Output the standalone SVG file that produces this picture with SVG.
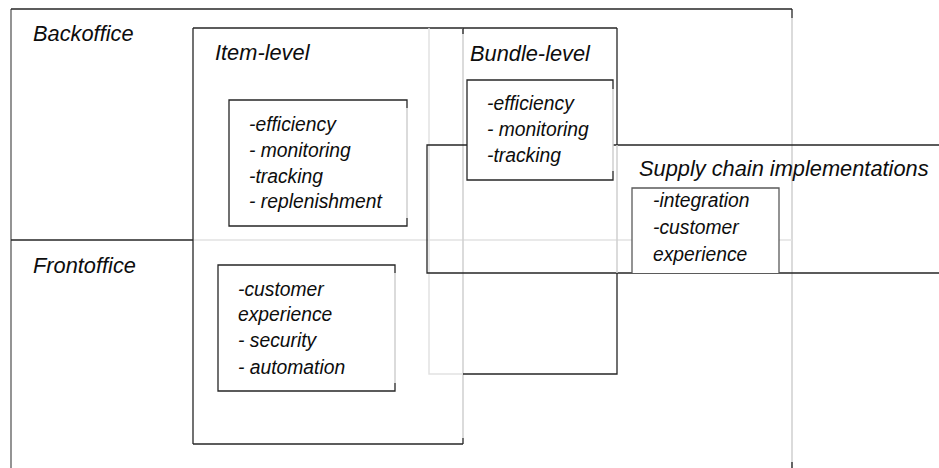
<svg xmlns="http://www.w3.org/2000/svg" width="939" height="468" viewBox="0 0 939 468">
  <style>
    text { font-family: "Liberation Sans", Arial, sans-serif; font-style: italic; fill: #0d0d0d; }
    .title { font-size: 21.8px; }
    .item { font-size: 19.3px; }
    .dark { stroke: #262626; stroke-width: 1.3; fill: none; }
    .mid { stroke: #5a5a5a; stroke-width: 1.3; fill: none; }
    .light { stroke: #cfcfcf; stroke-width: 1.5; fill: none; }
    .pale { stroke: #e2e2e2; stroke-width: 1.5; fill: none; }
    .box { fill: #ffffff; stroke: none; }
  </style>

  <!-- Outer frame: back office / front office areas -->
  <g id="office-frame">
    <line class="mid" x1="11" y1="9" x2="11" y2="468"/>
    <line class="dark" x1="11" y1="9" x2="792" y2="9"/>
    <line class="light" x1="792" y1="18" x2="792" y2="468"/>
    <line class="dark" x1="792" y1="9" x2="792" y2="18"/>
    <line class="dark" x1="792" y1="462" x2="792" y2="468"/>
    <!-- divider between back office and front office -->
    <line class="dark" x1="11" y1="240" x2="193" y2="240"/>
    <line class="pale" x1="193" y1="240" x2="792" y2="240"/>
  </g>

  <!-- Item-level column -->
  <g id="item-level">
    <line class="dark" x1="193" y1="28" x2="463" y2="28"/>
    <line class="dark" x1="193" y1="28" x2="193" y2="444"/>
    <line class="dark" x1="193" y1="444" x2="463" y2="444"/>
    <line class="light" x1="463" y1="28" x2="463" y2="438"/>
    <line class="dark" x1="463" y1="438" x2="463" y2="444"/>
    <text class="title" x="215" y="60">Item-level</text>
  </g>

  <!-- Pale strip joining item and bundle columns -->
  <g id="overlap-strip">
    <polyline class="pale" points="429,28 429,374 463,374"/>
  </g>

  <!-- Supply chain band -->
  <g id="supply-chain">
    <polyline class="dark" points="939,145 427,145 427,273 939,273"/>
    <text class="title" x="639" y="176">Supply chain implementations</text>
  </g>

  <!-- Bundle-level column -->
  <g id="bundle-level">
    <line class="dark" x1="463" y1="28" x2="617" y2="28"/>
    <line class="dark" x1="463" y1="28" x2="463" y2="34"/>
    <line class="dark" x1="617" y1="28" x2="617" y2="145"/>
    <line class="light" x1="617" y1="145" x2="617" y2="273"/>
    <polyline class="dark" points="617,273 617,374 463,374"/>
    <text class="title" x="470" y="61">Bundle-level</text>
  </g>

  <!-- Item-level, back office list -->
  <g id="item-backoffice">
    <rect class="box" x="229" y="100" width="178" height="126"/>
    <polyline class="dark" points="407,108 407,100 229,100 229,226 407,226 407,218"/>
    <line class="light" x1="407" y1="108" x2="407" y2="218"/>
    <text class="item" x="249" y="131">-efficiency</text>
    <text class="item" x="249" y="157">- monitoring</text>
    <text class="item" x="249" y="183">-tracking</text>
    <text class="item" x="249" y="208">- replenishment</text>
  </g>

  <!-- Item-level, front office list -->
  <g id="item-frontoffice">
    <rect class="box" x="218" y="265" width="177" height="126"/>
    <polyline class="dark" points="395,273 395,265 218,265 218,391 395,391 395,383"/>
    <line class="light" x1="395" y1="273" x2="395" y2="383"/>
    <text class="item" x="238" y="296">-customer</text>
    <text class="item" x="238" y="321">experience</text>
    <text class="item" x="238" y="347">- security</text>
    <text class="item" x="238" y="374">- automation</text>
  </g>

  <!-- Bundle-level list -->
  <g id="bundle-list">
    <rect class="box" x="467" y="80" width="146" height="100"/>
    <polyline class="dark" points="613,89 613,80 467,80 467,180 613,180 613,171"/>
    <line class="light" x1="613" y1="89" x2="613" y2="171"/>
    <text class="item" x="487" y="110">-efficiency</text>
    <text class="item" x="487" y="136">- monitoring</text>
    <text class="item" x="487" y="162">-tracking</text>
  </g>

  <!-- Supply chain list -->
  <g id="supply-list">
    <rect class="box" x="632" y="188" width="147" height="85"/>
    <polyline class="mid" points="632,273 632,188 779,188 779,273"/>
    <text class="item" x="653" y="207">-integration</text>
    <text class="item" x="653" y="234">-customer</text>
    <text class="item" x="653" y="261">experience</text>
  </g>

  <!-- Section labels -->
  <g id="office-labels">
    <text class="title" x="33" y="41">Backoffice</text>
    <text class="title" x="33" y="273">Frontoffice</text>
  </g>
</svg>
